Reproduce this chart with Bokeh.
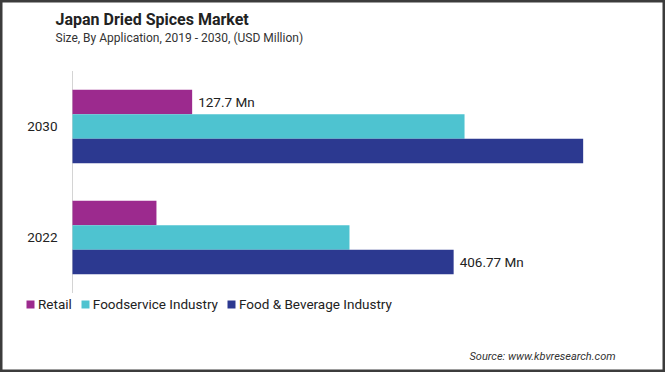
from bokeh.plotting import figure
from bokeh.models import ColumnDataSource, Range1d, Label, Legend, LegendItem
from bokeh.transform import dodge
from bokeh.core.properties import value
from bokeh.embed import file_html
from bokeh.resources import INLINE

# ---- data ----
years = ["2022", "2030"]
series = ["Retail", "Foodservice Industry", "Food & Beverage Industry"]
retail = [89.6, 127.7]
foodservice = [295.6, 418.4]
food_bev = [406.77, 545.0]
colors = ["#9C2A8E", "#4EC3D0", "#2C3990"]

title = "Japan Dried Spices Market"
subtitle = "Size, By Application, 2019 - 2030, (USD Million)"
source_text = "Source: www.kbvresearch.com"

FONT = "Roboto"
W, H = 665, 372
AX_PX = 72        # pixel position of the value axis origin
K = 0.937         # pixels per USD million
ROW_PX = 111      # pixels per year band
Y0_PX = 237       # pixel centre of first year band

ypos = list(range(len(years)))

p = figure(width=W, height=H, title=None, output_backend="svg", toolbar_location=None,
           x_axis_location=None, y_axis_location=None, min_border=0,
           x_range=Range1d(-AX_PX / K, (W - AX_PX) / K),
           y_range=Range1d(-(H - Y0_PX) / ROW_PX, Y0_PX / ROW_PX))
p.xgrid.visible = False
p.ygrid.visible = False
p.background_fill_color = "white"
p.border_fill_color = "white"
p.outline_line_color = "#3c3c3c"
p.outline_line_width = 4

src = ColumnDataSource(dict(year=years, ypos=ypos, retail=retail,
                            foodservice=foodservice, food_bev=food_bev))
bh = 0.2207

# category axis line
p.segment(x0=0, y0=min(ypos) - 0.5, x1=0, y1=max(ypos) + 0.5,
          line_color="#d4d4d4", line_width=1)

rs = []
for field, off, c in zip(["retail", "foodservice", "food_bev"], [bh, 0, -bh], colors):
    r = p.hbar(y=dodge("ypos", off), left=0, right=field, height=bh,
               source=src, fill_color=c, line_color=None)
    rs.append(r)

# category tick labels
p.text(x=0, y="ypos", text="year", source=src, x_offset=-15, text_align="right",
       text_baseline="middle", text_font=value(FONT), text_font_size="13.5px",
       text_color="#222222")

# value labels
lab1 = ColumnDataSource(dict(ypos=[ypos[1]], x=[retail[1]], text=[f"{retail[1]} Mn"]))
lab2 = ColumnDataSource(dict(ypos=[ypos[0]], x=[food_bev[0]], text=[f"{food_bev[0]} Mn"]))
for s, off in [(lab1, bh), (lab2, -bh)]:
    p.text(x="x", y=dodge("ypos", off), text="text", source=s,
           x_offset=6, text_baseline="middle", text_align="left",
           text_font=value(FONT), text_font_size="13.5px", text_color="#222222")

legend = Legend(items=[LegendItem(label=s, renderers=[r]) for s, r in zip(series, rs)],
                orientation="horizontal", location=(25, 60), padding=0, margin=0,
                spacing=8, label_standoff=3, glyph_width=10, glyph_height=10,
                label_height=10, border_line_color=None, background_fill_alpha=0,
                label_text_font=FONT, label_text_font_size="13.5px",
                label_text_color="#222222")
p.add_layout(legend, "center")

p.add_layout(Label(x=55, y=H - 19.3, x_units="screen", y_units="screen", text=title,
                   text_font=FONT, text_font_size="16px", text_font_style="bold",
                   text_color="#222222", text_baseline="alphabetic"))
p.add_layout(Label(x=55, y=H - 37.3, x_units="screen", y_units="screen", text=subtitle,
                   text_font=FONT, text_font_size="12px",
                   text_color="#333333", text_baseline="alphabetic"))
p.add_layout(Label(x=469, y=H - 356, x_units="screen", y_units="screen", text=source_text,
                   text_font=FONT, text_font_size="11px", text_font_style="italic",
                   text_color="#333333", text_baseline="alphabetic"))

open("out.html", "w").write(file_html(p, INLINE))
